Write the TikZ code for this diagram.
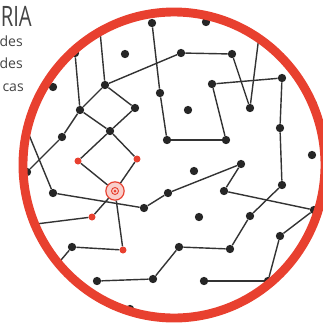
\documentclass[tikz,border=0pt]{standalone}
\usepackage{fontspec}
\newfontfamily\labelfont{Open Sans}
\newfontfamily\titlefont[FakeStretch=0.72]{Open Sans}
\usepackage{tikz}
\definecolor{ringred}{HTML}{E8402F}
\definecolor{textgray}{HTML}{444444}

\begin{document}
\begin{tikzpicture}[x=0.03cm, y=-0.03cm,
    blackdot/.style={circle, fill=black!85, inner sep=0pt, minimum size=0.25cm},
    reddot/.style={circle, fill=ringred, inner sep=0pt, minimum size=0.21cm},
    link/.style={line width=1.2pt, black!80}]
  \useasboundingbox (0,0) rectangle (322,328);

  % heading, cut off at the left
  \node [anchor=base east, inner sep=0pt, textgray, font=\titlefont\fontsize{24}{24}\selectfont] (title) at (32,26) {RIA};
  \node [anchor=base east, inner sep=0pt, textgray, font=\labelfont\fontsize{12}{12}\selectfont] (line-1) at (23,46) {des};
  \node [anchor=base east, inner sep=0pt, textgray, font=\labelfont\fontsize{12}{12}\selectfont] (line-2) at (23,68) {des};
  \node [anchor=base east, inner sep=0pt, textgray, font=\labelfont\fontsize{12}{12}\selectfont] (line-3) at (24,91) {cas};

  % black dots
  \foreach \n/\x/\y in {1/152/23, 2/206/22, 3/75/53, 4/125/54, 5/181/53, 6/232/54,
                        7/105/85, 8/53/87, 9/160/93, 10/212/84, 11/282/78, 12/313/104,
                        13/80/110, 14/135/108, 15/188/110, 16/250/108, 17/280/128,
                        18/110/131, 19/62/137, 20/167/140, 21/226/140, 22/312/155,
                        23/241/164, 24/194/171, 25/27/172, 26/282/185, 27/168/193,
                        28/53/193, 29/224/191, 30/144/208, 31/314/210, 32/199/217,
                        33/250/216, 34/280/236, 35/179/247, 36/230/249, 37/72/247,
                        38/97/281, 39/153/279, 40/204/281, 41/268/281, 42/130/309}
  {
    \node [blackdot] (D-\n) at (\x, \y) {};
  }

  % red dots and the hub
  \foreach \n/\x/\y in {1/78/161, 2/137/159, 3/92/217, 4/123/250}
  {
    \node [reddot] (R-\n) at (\x, \y) {};
  }
  \node [circle, draw=ringred, line width=1pt, fill=ringred!25, inner sep=0pt, minimum size=0.55cm] (hub) at (115,191) {};
  \draw [ringred, line width=0.8pt] (hub.center) circle (3.5);
  \fill [ringred] (hub.center) circle (1.5);

  % loose ends under the ring
  \coordinate (E-1) at (100,31);
  \coordinate (E-2) at (27,130);
  \coordinate (E-3) at (36,224);
  \coordinate (E-4) at (56,266);
  \coordinate (E-5) at (259,36);

  % connections
  \foreach \a/\b in {D-1/D-9, D-9/D-20, D-20/D-21, D-21/D-10, D-10/D-11, D-11/D-17,
                     D-17/D-26, D-26/D-33, D-33/D-36, D-36/D-35, D-35/D-39, D-39/D-38,
                     E-1/D-7, D-7/D-5, D-5/D-6, D-6/D-16, D-16/E-5,
                     D-7/D-13, D-7/D-14, D-13/D-18, D-14/D-18, D-3/D-13, D-13/D-19, D-19/D-25,
                     E-2/D-28, D-28/D-30, D-30/D-27, D-27/D-23, D-23/D-29, D-29/D-31,
                     D-31/D-34, D-34/D-41, D-41/D-40}
  {
    \draw [link] (\a) -- (\b);
  }

  \foreach \a/\b in {D-18/R-1, D-18/R-2, R-1/hub, R-2/hub, hub/R-3, hub/R-4,
                     R-3/E-3, R-4/D-37, D-37/E-4}
  {
    \draw [link] (\a) -- (\b);
  }

  % outer ring
  \draw [ringred, line width=7.6pt] (174,165) ellipse [x radius=151, y radius=153];

\end{tikzpicture}
\end{document}
